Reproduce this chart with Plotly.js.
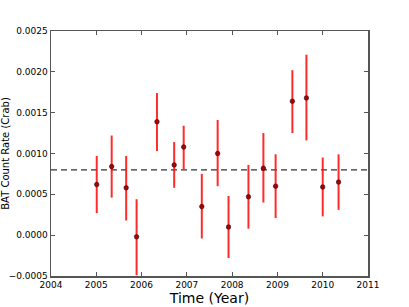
<!DOCTYPE html>
<html>
<head>
<meta charset="utf-8">
<script src="https://cdn.plot.ly/plotly-3.0.1.min.js"></script>
<style>
  html, body { margin: 0; padding: 0; background: #fff; }
  #plot { width: 409px; height: 307px; }
</style>
</head>
<body>
<div id="plot"></div>
<script>
// Время наблюдений (год) и скорость счёта BAT (Crab)
const years = [2005.01, 2005.34, 2005.66, 2005.89, 2006.34, 2006.72, 2006.93, 2007.33, 2007.68,
               2007.92, 2008.36, 2008.69, 2008.96, 2009.33, 2009.64, 2010.00, 2010.35];
const rates = [0.00062, 0.00084, 0.00058, -0.00002, 0.00139, 0.00086, 0.00108, 0.00035, 0.00100,
               0.00010, 0.00047, 0.00082, 0.00060, 0.00164, 0.00168, 0.00059, 0.00065];
const errUp = [0.00035, 0.00038, 0.00039, 0.00046, 0.00035, 0.00028, 0.00026, 0.00040, 0.00041,
               0.00038, 0.00039, 0.00043, 0.00039, 0.00038, 0.00053, 0.00036, 0.00034];
const errDown = [0.00035, 0.00038, 0.00040, 0.00047, 0.00036, 0.00028, 0.00027, 0.00039, 0.00040,
                 0.00038, 0.00039, 0.00042, 0.00039, 0.00039, 0.00052, 0.00036, 0.00034];
const meanRate = 0.0008;

const xTicks = [2004, 2005, 2006, 2007, 2008, 2009, 2010, 2011];
const yTicks = [-0.0005, 0, 0.0005, 0.0010, 0.0015, 0.0020, 0.0025];

const pts = {
    x: years,
    y: rates,
    type: 'scatter',
    mode: 'markers',
    marker: { size: 4.5, color: '#b00000', line: { color: '#300000', width: 0.6 } },
    error_y: {
        type: 'data',
        symmetric: false,
        array: errUp,
        arrayminus: errDown,
        color: 'rgba(255,20,20,0.9)',
        thickness: 2,
        width: 0
    },
    cliponaxis: true,
    showlegend: false
};

// Средний уровень — пунктирная линия
const meanLine = {
    x: [xTicks[0], xTicks[xTicks.length - 1]],
    y: [meanRate, meanRate],
    type: 'scatter',
    mode: 'lines',
    line: { color: '#333', width: 1.2, dash: '6px,4px' },
    showlegend: false
};

const axisCommon = {
    showgrid: false,
    zeroline: false,
    showline: true,
    linecolor: '#555',
    linewidth: 1.5,
    mirror: 'allticks',
    ticks: 'inside',
    ticklen: 4,
    tickcolor: '#555',
    tickfont: { family: 'DejaVu Sans', size: 9, color: '#000' }
};

const layout = {
    width: 409,
    height: 307,
    margin: { l: 51, r: 41, t: 31, b: 31 },
    paper_bgcolor: '#fff',
    plot_bgcolor: '#fff',
    xaxis: Object.assign({}, axisCommon, {
        range: [2004, 2011],
        tickvals: xTicks,
        ticktext: xTicks.map(String),
        title: { text: 'Time (Year)', font: { family: 'DejaVu Sans', size: 14, color: '#000' }, standoff: 2 }
    }),
    yaxis: Object.assign({}, axisCommon, {
        range: [-0.0005, 0.0025],
        tickvals: yTicks,
        ticktext: yTicks.map(v => (v < 0 ? '\u2212' : '') + Math.abs(v).toFixed(4)),
        title: { text: 'BAT Count Rate (Crab)', font: { family: 'DejaVu Sans', size: 10, color: '#000' }, standoff: 4 }
    })
};

Plotly.newPlot('plot', [meanLine, pts], layout, { staticPlot: true });
</script>
</body>
</html>
